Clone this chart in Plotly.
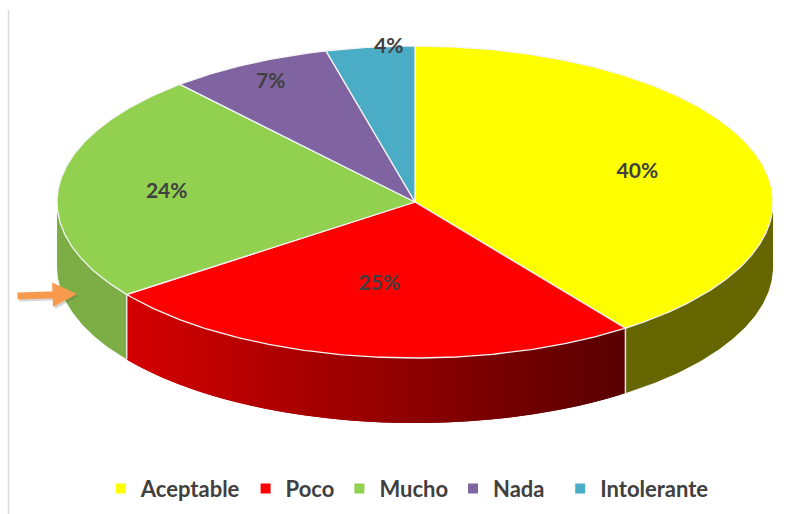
import math
import plotly.graph_objects as go

categories = ["Aceptable", "Poco", "Mucho", "Nada", "Intolerante"]
values = [40, 24.9, 23.7, 7.4, 4.0]
labels = ["40%", "25%", "24%", "7%", "4%"]
colors = ["#FFFF00", "#FF0000", "#92D050", "#8064A2", "#4BACC6"]

# Geometry / style (pixel-like axis space)
CX, CY, RX, RY, DEPTH = 415, 202, 358, 156, 65
LABEL_R = 0.65
LABEL_NUDGE = [(1, 2), (0, -17), (-17, 2), (-36, -29), (3, -54)]
LEGEND_PAD = [0, 0, 0, 2, 0]
FONT = "Lato"
TEXT = "#404040"


def pt(deg, r=1.0, dy=0):
    a = math.radians(deg)
    return CX + RX * r * math.sin(a), CY - RY * r * math.cos(a) + dy


def arc(a0, a1, dy=0):
    n = max(2, int(abs(a1 - a0) * 2))
    return [pt(a0 + (a1 - a0) * i / n, dy=dy) for i in range(n + 1)]


def lerp_red(x):
    t = (x - 127) / (625 - 127)
    t = max(0, min(1, t))
    return "rgb(%d,0,0)" % round(212 + (88 - 212) * t)


fig = go.Figure()


def poly(points, fill, line=None, width=0):
    fig.add_trace(go.Scatter(
        x=[p[0] for p in points] + [points[0][0]],
        y=[p[1] for p in points] + [points[0][1]],
        mode="lines", fill="toself", fillcolor=fill,
        line=dict(color=line or fill, width=width),
        hoverinfo="skip", showlegend=False))


# cumulative angles derived from the values
total = sum(values)
angles = [0]
for v in values:
    angles.append(angles[-1] + 360 * v / total)

# side walls
wall_yellow = (90, angles[1])
wall_red = (angles[1], angles[2])
wall_green = (angles[2], 270)

poly(arc(*wall_yellow) + arc(wall_yellow[1], wall_yellow[0], dy=DEPTH), "#666600")
poly(arc(*wall_green) + arc(wall_green[1], wall_green[0], dy=DEPTH), "#7CAE45")

# red wall gradient: each strip overlaps the next one to hide seams
N = 90
step = (wall_red[1] - wall_red[0]) / N
for i in range(N):
    a0 = wall_red[0] + i * step
    a1 = min(a0 + 2 * step, wall_red[1])
    poly(arc(a0, a1) + arc(a1, a0, dy=DEPTH), lerp_red(pt(a0 + step / 2)[0]))

# wall separators
for a in (angles[1], angles[2]):
    x, y = pt(a)
    fig.add_trace(go.Scatter(x=[x, x], y=[y, y + DEPTH], mode="lines",
                             line=dict(color="#E8E8E8", width=1.5),
                             hoverinfo="skip", showlegend=False))

# top face
for i in range(len(values)):
    poly([(CX, CY)] + arc(angles[i], angles[i + 1]), colors[i], "#F4F4F4", 1.3)

# data labels
lx, ly = [], []
for i in range(len(values)):
    x, y = pt((angles[i] + angles[i + 1]) / 2, LABEL_R)
    lx.append(x + LABEL_NUDGE[i][0])
    ly.append(y + LABEL_NUDGE[i][1])
fig.add_trace(go.Scatter(x=lx, y=ly, mode="text", text=labels,
                         textfont=dict(family=FONT, size=21, color=TEXT, weight="bold"),
                         hoverinfo="skip", showlegend=False))

# legend entries
for name, col, pad in zip(categories, colors, LEGEND_PAD):
    fig.add_trace(go.Scatter(x=[None], y=[None], mode="markers", name=name + "\u00a0" * pad,
                             marker=dict(symbol="square", size=10, color=col)))

fig.update_layout(
    width=794, height=514, margin=dict(l=0, r=0, t=0, b=0, autoexpand=False),
    paper_bgcolor="white", plot_bgcolor="white",
    xaxis=dict(range=[0, 794], visible=False, fixedrange=True),
    yaxis=dict(range=[514, 0], visible=False, fixedrange=True),
    legend=dict(orientation="h", x=0.513, xanchor="center", y=0.049, yanchor="middle",
                font=dict(family=FONT, size=22, color=TEXT, weight="bold"),
                itemwidth=30, bgcolor="rgba(0,0,0,0)"),
    shapes=[dict(type="line", xref="x", yref="y", x0=8.5, x1=8.5, y0=10, y1=514,
                 line=dict(color="#DADADA", width=1.5), layer="below")],
    annotations=[
        dict(x=79, y=296, ax=18, ay=298, xref="x", yref="y", axref="x", ayref="y",
             text="", showarrow=True, arrowhead=2, arrowsize=0.7, arrowwidth=7,
             arrowcolor="rgba(90,90,90,0.25)"),
        dict(x=77, y=294, ax=16, ay=296, xref="x", yref="y", axref="x", ayref="y",
             text="", showarrow=True, arrowhead=2, arrowsize=0.7, arrowwidth=7,
             arrowcolor="#F79A4D"),
    ],
)

fig.write_html("out.html", config={"displayModeBar": False},
               post_script="document.body.style.margin='0';")
